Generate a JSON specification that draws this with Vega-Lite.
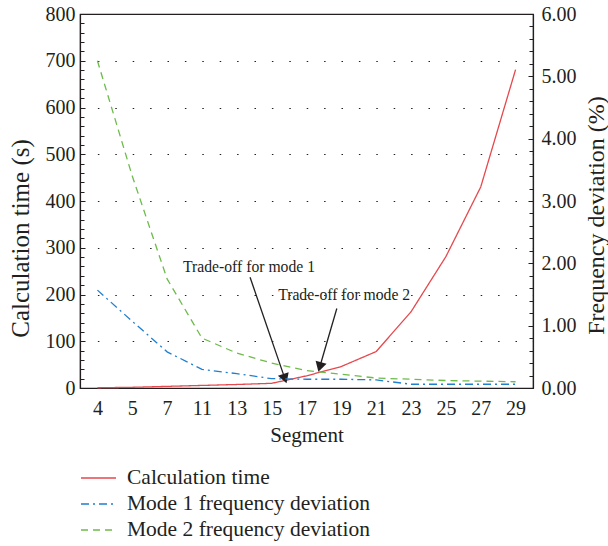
{
  "$schema": "https://vega.github.io/schema/vega-lite/v6.json",
  "width": 453,
  "height": 374,
  "autosize": {"type": "none"},
  "padding": {"left": 80, "top": 14, "right": 75, "bottom": 158},
  "background": "white",
  "config": {
    "font": "Liberation Serif",
    "view": {"stroke": "#231f20", "strokeWidth": 1.2},
    "axis": {
      "labelFont": "Liberation Serif",
      "titleFont": "Liberation Serif",
      "labelFontSize": 20,
      "titleFontSize": 21,
      "titleFontWeight": "normal",
      "labelColor": "#231f20",
      "titleColor": "#231f20",
      "domainColor": "#231f20",
      "tickColor": "#231f20",
      "domainWidth": 1.2,
      "tickWidth": 1
    },
    "legend": {
      "labelFont": "Liberation Serif",
      "labelFontSize": 21.5,
      "labelColor": "#231f20",
      "labelLimit": 0
    }
  },
  "datasets": {
    "series": [
      {"i": 0, "seg": 4, "series": "Calculation time", "value": 0.5},
      {"i": 1, "seg": 5, "series": "Calculation time", "value": 1.5},
      {"i": 2, "seg": 7, "series": "Calculation time", "value": 3.5},
      {"i": 3, "seg": 11, "series": "Calculation time", "value": 5.5},
      {"i": 4, "seg": 13, "series": "Calculation time", "value": 7.5},
      {"i": 5, "seg": 15, "series": "Calculation time", "value": 10},
      {"i": 6, "seg": 17, "series": "Calculation time", "value": 26},
      {"i": 7, "seg": 19, "series": "Calculation time", "value": 46},
      {"i": 8, "seg": 21, "series": "Calculation time", "value": 78},
      {"i": 9, "seg": 23, "series": "Calculation time", "value": 163},
      {"i": 10, "seg": 25, "series": "Calculation time", "value": 281},
      {"i": 11, "seg": 27, "series": "Calculation time", "value": 430},
      {"i": 12, "seg": 29, "series": "Calculation time", "value": 681},
      {"i": 0, "seg": 4, "series": "Mode 1 frequency deviation", "value": 1.57},
      {"i": 1, "seg": 5, "series": "Mode 1 frequency deviation", "value": 1.07},
      {"i": 2, "seg": 7, "series": "Mode 1 frequency deviation", "value": 0.58},
      {"i": 3, "seg": 11, "series": "Mode 1 frequency deviation", "value": 0.30},
      {"i": 4, "seg": 13, "series": "Mode 1 frequency deviation", "value": 0.23},
      {"i": 5, "seg": 15, "series": "Mode 1 frequency deviation", "value": 0.15},
      {"i": 6, "seg": 17, "series": "Mode 1 frequency deviation", "value": 0.14},
      {"i": 7, "seg": 19, "series": "Mode 1 frequency deviation", "value": 0.14},
      {"i": 8, "seg": 21, "series": "Mode 1 frequency deviation", "value": 0.13},
      {"i": 9, "seg": 23, "series": "Mode 1 frequency deviation", "value": 0.06},
      {"i": 10, "seg": 25, "series": "Mode 1 frequency deviation", "value": 0.06},
      {"i": 11, "seg": 27, "series": "Mode 1 frequency deviation", "value": 0.06},
      {"i": 12, "seg": 29, "series": "Mode 1 frequency deviation", "value": 0.06},
      {"i": 0, "seg": 4, "series": "Mode 2 frequency deviation", "value": 5.25},
      {"i": 1, "seg": 5, "series": "Mode 2 frequency deviation", "value": 3.4},
      {"i": 2, "seg": 7, "series": "Mode 2 frequency deviation", "value": 1.75},
      {"i": 3, "seg": 11, "series": "Mode 2 frequency deviation", "value": 0.80},
      {"i": 4, "seg": 13, "series": "Mode 2 frequency deviation", "value": 0.56},
      {"i": 5, "seg": 15, "series": "Mode 2 frequency deviation", "value": 0.40},
      {"i": 6, "seg": 17, "series": "Mode 2 frequency deviation", "value": 0.28},
      {"i": 7, "seg": 19, "series": "Mode 2 frequency deviation", "value": 0.22},
      {"i": 8, "seg": 21, "series": "Mode 2 frequency deviation", "value": 0.16},
      {"i": 9, "seg": 23, "series": "Mode 2 frequency deviation", "value": 0.14},
      {"i": 10, "seg": 25, "series": "Mode 2 frequency deviation", "value": 0.12},
      {"i": 11, "seg": 27, "series": "Mode 2 frequency deviation", "value": 0.11},
      {"i": 12, "seg": 29, "series": "Mode 2 frequency deviation", "value": 0.10}
    ],
    "notes": [
      {"label": "Trade-off for mode 1", "tx": 4.35, "ty": 259, "x0": 4.38, "y0": 237, "x1": 5.38, "y1": 20},
      {"label": "Trade-off for mode 2", "tx": 7.08, "ty": 199, "x0": 6.87, "y0": 170, "x1": 6.38, "y1": 45}
    ]
  },
  "layer": [
    {
      "layer": [
        {
          "data": {"name": "series"},
          "transform": [{"filter": "datum.series === 'Calculation time'"}],
          "mark": {"type": "line", "strokeWidth": 1.3},
          "encoding": {
            "x": {
              "field": "i", "type": "quantitative",
              "scale": {"domain": [-0.5, 12.5], "nice": false, "zero": false},
              "axis": {
                "title": "Segment",
                "values": [0,1,2,3,4,5,6,7,8,9,10,11,12], "tickCount": 13,
                "labelExpr": "['4','5','7','11','13','15','17','19','21','23','25','27','29'][datum.value]",
                "labelOverlap": false, "labelFlush": false,
                "ticks": false, "grid": false, "labelPadding": 10, "titlePadding": 6
              }
            },
            "y": {
              "field": "value", "type": "quantitative",
              "scale": {"domain": [0, 800], "nice": false},
              "axis": {
                "title": "Calculation time (s)", "orient": "left",
                "titleFontSize": 25, "titleY": 224, "titlePadding": 12,
                "values": [0,100,200,300,400,500,600,700,800],
                "labelOverlap": false, "labelFlush": false,
                "tickSize": -5, "labelPadding": 10,
                "grid": true, "gridDash": [1.5, 15.9], "gridColor": "#231f20", "gridWidth": 1.2
              }
            },
            "color": {
              "field": "series", "type": "nominal",
              "scale": {"domain": ["Calculation time", "Mode 1 frequency deviation", "Mode 2 frequency deviation"], "range": ["#e5484d", "#1f7fd0", "#6dbb4a"]},
              "legend": {
                "title": null, "orient": "none", "legendX": 0, "legendY": 452, "direction": "vertical",
                "symbolType": "stroke", "symbolSize": 1225, "symbolStrokeWidth": 1.5, "labelOffset": 10,
                "clipHeight": 24, "rowPadding": 2
              }
            },
            "strokeDash": {
              "field": "series", "type": "nominal",
              "scale": {"domain": ["Calculation time", "Mode 1 frequency deviation", "Mode 2 frequency deviation"], "range": [[1, 0], [8, 4, 2, 4], [7, 5]]},
              "legend": {
                "title": null, "orient": "none", "legendX": 0, "legendY": 452, "direction": "vertical",
                "symbolType": "stroke", "symbolSize": 1225, "symbolStrokeWidth": 1.5, "labelOffset": 10,
                "clipHeight": 24, "rowPadding": 2
              }
            }
          }
        },
        {
          "data": {"name": "notes"},
          "mark": {"type": "rule", "color": "#231f20", "strokeWidth": 1.3},
          "encoding": {
            "x": {"field": "x0", "type": "quantitative", "title": "Segment"},
            "y": {"field": "y0", "type": "quantitative", "title": "Calculation time (s)"},
            "x2": {"field": "x1"},
            "y2": {"field": "y1"}
          }
        },
        {
          "data": {"name": "notes"},
          "transform": [{"filter": "datum.label === 'Trade-off for mode 1'"}],
          "mark": {"type": "point", "shape": "triangle-up", "filled": true, "color": "#231f20", "size": 130, "angle": 161, "opacity": 1},
          "encoding": {
            "x": {"field": "x1", "type": "quantitative", "title": "Segment"},
            "y": {"field": "y1", "type": "quantitative", "title": "Calculation time (s)"}
          }
        },
        {
          "data": {"name": "notes"},
          "transform": [{"filter": "datum.label === 'Trade-off for mode 2'"}],
          "mark": {"type": "point", "shape": "triangle-up", "filled": true, "color": "#231f20", "size": 130, "angle": 196, "opacity": 1},
          "encoding": {
            "x": {"field": "x1", "type": "quantitative", "title": "Segment"},
            "y": {"field": "y1", "type": "quantitative", "title": "Calculation time (s)"}
          }
        },
        {
          "data": {"name": "notes"},
          "mark": {"type": "text", "font": "Liberation Serif", "fontSize": 15.7, "color": "#231f20", "align": "center", "baseline": "middle"},
          "encoding": {
            "x": {"field": "tx", "type": "quantitative", "title": "Segment"},
            "y": {"field": "ty", "type": "quantitative", "title": "Calculation time (s)"},
            "text": {"field": "label"}
          }
        }
      ]
    },
    {
      "data": {"name": "series"},
      "transform": [{"filter": "datum.series !== 'Calculation time'"}],
      "mark": {"type": "line", "strokeWidth": 1.3},
      "encoding": {
        "x": {
          "field": "i", "type": "quantitative",
          "scale": {"domain": [-0.5, 12.5], "nice": false, "zero": false},
          "axis": {
            "title": "Segment",
            "values": [0,1,2,3,4,5,6,7,8,9,10,11,12], "tickCount": 13,
            "labelExpr": "['4','5','7','11','13','15','17','19','21','23','25','27','29'][datum.value]",
            "labelOverlap": false, "labelFlush": false,
            "ticks": false, "grid": false, "labelPadding": 10, "titlePadding": 6
          }
        },
        "y": {
          "field": "value", "type": "quantitative",
          "scale": {"domain": [0, 6], "nice": false},
          "axis": {
            "title": "Frequency deviation (%)", "orient": "right", "titleAngle": -90, "titleBaseline": "top",
            "titleFontSize": 24, "titleY": 201, "titlePadding": 8,
            "values": [0,1,2,3,4,5,6], "format": ".2f",
            "labelOverlap": false, "labelFlush": false,
            "tickSize": -5, "labelPadding": 13, "grid": false
          }
        },
        "color": {"field": "series", "type": "nominal"},
        "strokeDash": {"field": "series", "type": "nominal"}
      }
    },
    {
      "data": {"name": "series"},
      "transform": [{"filter": "datum.series === 'Calculation time'"}],
      "mark": {"type": "line", "opacity": 0},
      "encoding": {
        "x": {
          "field": "i", "type": "quantitative",
          "scale": {"domain": [-0.5, 12.5], "nice": false, "zero": false},
          "axis": {
            "title": "Segment",
            "values": [0,1,2,3,4,5,6,7,8,9,10,11,12], "tickCount": 13,
            "labelExpr": "['4','5','7','11','13','15','17','19','21','23','25','27','29'][datum.value]",
            "labelOverlap": false, "labelFlush": false,
            "ticks": false, "grid": false, "labelPadding": 10, "titlePadding": 6
          }
        },
        "y": {
          "field": "value", "type": "quantitative",
          "scale": {"domain": [0, 800], "nice": false},
          "axis": {
            "title": null, "orient": "left", "labels": false, "domain": false, "grid": false,
            "values": [20,40,60,80,120,140,160,180,220,240,260,280,320,340,360,380,420,440,460,480,520,540,560,580,620,640,660,680,720,740,760,780],
            "tickSize": -4
          }
        }
      }
    },
    {
      "data": {"name": "series"},
      "transform": [{"filter": "datum.series !== 'Calculation time'"}],
      "mark": {"type": "line", "opacity": 0},
      "encoding": {
        "x": {
          "field": "i", "type": "quantitative",
          "scale": {"domain": [-0.5, 12.5], "nice": false, "zero": false},
          "axis": {
            "title": "Segment",
            "values": [0,1,2,3,4,5,6,7,8,9,10,11,12], "tickCount": 13,
            "labelExpr": "['4','5','7','11','13','15','17','19','21','23','25','27','29'][datum.value]",
            "labelOverlap": false, "labelFlush": false,
            "ticks": false, "grid": false, "labelPadding": 10, "titlePadding": 6
          }
        },
        "y": {
          "field": "value", "type": "quantitative",
          "scale": {"domain": [0, 6], "nice": false},
          "axis": {
            "title": null, "orient": "right", "labels": false, "domain": false, "grid": false,
            "values": [0.2,0.4,0.6,0.8,1.2,1.4,1.6,1.8,2.2,2.4,2.6,2.8,3.2,3.4,3.6,3.8,4.2,4.4,4.6,4.8,5.2,5.4,5.6,5.8],
            "tickSize": -4
          }
        }
      }
    }
  ],
  "resolve": {"scale": {"y": "independent"}}
}
